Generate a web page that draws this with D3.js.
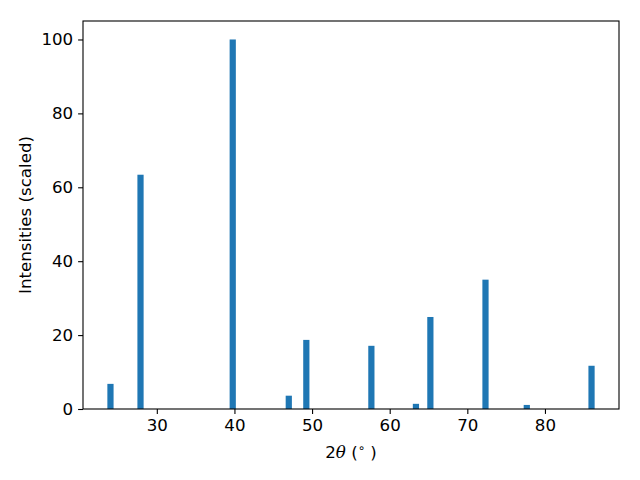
<!DOCTYPE html>
<html><head><meta charset="utf-8">
<script src="https://cdn.jsdelivr.net/npm/d3@7"></script>
<style>body{margin:0;background:#fff}svg{display:block}text{font-family:"DejaVu Sans",sans-serif}</style>
</head><body><svg id="c" width="640" height="480"></svg>
<script>
const positions = [24.03, 27.9, 39.78, 47.0, 49.26, 57.64, 63.38, 65.24, 72.34, 77.66, 86.0];
const intensities = [6.8, 63.4, 100, 3.6, 18.7, 17.1, 1.4, 24.9, 35.0, 1.1, 11.7];
const xTicks = [30, 40, 50, 60, 70, 80];
const yTicks = [0, 20, 40, 60, 80, 100];
const barWidth = 0.8;

const svg = d3.select("#c");
const L = 83, T = 21, R = 619, B = 409;
const lo = d3.min(positions) - barWidth/2, hi = d3.max(positions) + barWidth/2;
const pad = (hi - lo) * 0.05;
const x = d3.scaleLinear().domain([lo - pad, hi + pad]).range([L, R]);
const y = d3.scaleLinear().domain([0, d3.max(intensities) * 1.05]).range([B, T]);

svg.append("g").selectAll("rect").data(positions).join("rect")
  .attr("x", (d) => x(d - barWidth/2))
  .attr("width", (d) => x(d + barWidth/2) - x(d - barWidth/2))
  .attr("y", (d, i) => y(intensities[i]))
  .attr("height", (d, i) => y(0) - y(intensities[i]))
  .attr("fill", "#1f77b4");

const fs = 16.67;
const xa = svg.append("g").attr("transform", `translate(0,${B})`)
  .call(d3.axisBottom(x).tickValues(xTicks).tickSize(4.9).tickPadding(4.9).tickFormat(d3.format("d")));
const ya = svg.append("g").attr("transform", `translate(${L},0)`)
  .call(d3.axisLeft(y).tickValues(yTicks).tickSize(4.9).tickPadding(4.9).tickFormat(d3.format("d")));
[xa, ya].forEach(a => {
  a.attr("font-size", fs).attr("font-family", "DejaVu Sans");
  a.select(".domain").remove();
  a.selectAll(".tick line").attr("stroke", "#000").attr("stroke-width", 1.1);
  a.selectAll("text").attr("font-size", fs).attr("fill", "#000");
});

svg.append("rect").attr("x", L).attr("y", T).attr("width", R - L).attr("height", B - T)
  .attr("fill", "none").attr("stroke", "#000").attr("stroke-width", 1.1);

const xl = svg.append("text").attr("x", (L + R) / 2).attr("y", 458).attr("text-anchor", "middle")
  .attr("font-size", fs).attr("fill", "#000");
xl.append("tspan").text("2");
xl.append("tspan").attr("font-style", "italic").attr("font-family", "DejaVu Serif").text("θ");
xl.append("tspan").text(" (");
xl.append("tspan").attr("font-size", fs * 0.7).attr("dy", -6).text("∘");
xl.append("tspan").attr("dy", 6).text(" )");

svg.append("text").attr("transform", `translate(31,${(T + B) / 2}) rotate(-90)`)
  .attr("text-anchor", "middle").attr("font-size", fs).attr("fill", "#000")
  .text("Intensities (scaled)");
</script></body></html>
